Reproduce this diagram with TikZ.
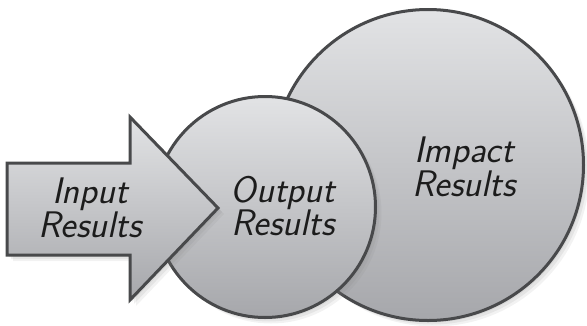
\documentclass[tikz,border=0pt]{standalone}
\usepackage{fontspec}
\usepackage{tikz}
\usetikzlibrary{shadows,positioning}
\definecolor{rimGray}{HTML}{48494B}
\definecolor{topGray}{HTML}{E2E3E5}
\definecolor{botGray}{HTML}{A6A7AB}
\definecolor{inkBlack}{HTML}{1C1C1C}

\tikzset{
  softshadow/.style={
    drop shadow={opacity=.12,shadow xshift=2pt,shadow yshift=-2pt},
    drop shadow={opacity=.12,shadow xshift=4pt,shadow yshift=-4pt},
    drop shadow={opacity=.10,shadow xshift=6pt,shadow yshift=-6pt}},
  bubble/.style={circle,draw=rimGray,line width=3pt,inner sep=0pt,
    top color=topGray,bottom color=botGray,softshadow},
  hand/.style={text=inkBlack,align=center,
    font=\sffamily\itshape\fontsize{37}{31}\selectfont}
}

\begin{document}
\begin{tikzpicture}[x=1pt,y=-1pt,line join=miter]
    \useasboundingbox (0,0) rectangle (587,325);
    % results grow from left to right
    \node[bubble,minimum size=311pt] (impact) at (428,165) {};
    \node[bubble,minimum size=221pt] (output) at (265,207) {};
    % input arrow pointing into the output circle
    \path[draw=rimGray,line width=3pt,top color=topGray,bottom color=botGray,softshadow]
       (7,163) -- (130,163) -- (130,117) -- (218,208) -- (130,300)
       -- (130,255) -- (7,255) -- cycle;
    \node[hand] (inputTxt) at (90,208) {Input\\Results};
    \node[hand] (outputTxt) at (283,206) {Output\\Results};
    \node[hand] (impactTxt) at (464,167) {Impact\\Results};
\end{tikzpicture}
\end{document}
